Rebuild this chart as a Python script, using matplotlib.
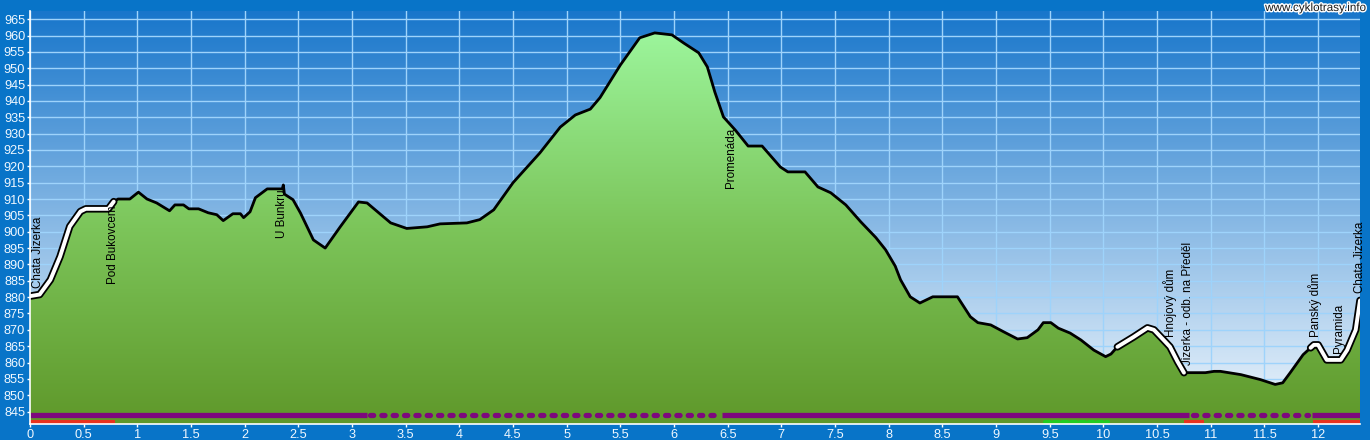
import numpy as np
import matplotlib
matplotlib.use("Agg")
import matplotlib.pyplot as plt
from matplotlib.colors import LinearSegmentedColormap
import matplotlib.patheffects as pe

# elevation profile (km, m)
km = [0.00, 0.09, 0.19, 0.28, 0.37, 0.47, 0.52, 0.73, 0.78, 0.82, 0.93, 1.01, 1.09,
      1.18, 1.30, 1.35, 1.43, 1.48, 1.57, 1.66, 1.74, 1.80, 1.89, 1.96, 1.99, 2.05,
      2.10, 2.21, 2.35, 2.36, 2.37, 2.45, 2.52, 2.64, 2.75, 2.89, 3.06, 3.14, 3.36,
      3.51, 3.70, 3.82, 4.07, 4.19, 4.32, 4.50, 4.75, 4.94, 5.08, 5.22, 5.31, 5.50,
      5.68, 5.82, 5.98, 6.09, 6.23, 6.31, 6.38, 6.46, 6.57, 6.69, 6.82, 6.99, 7.06,
      7.22, 7.34, 7.46, 7.60, 7.74, 7.88, 7.97, 8.06, 8.11, 8.20, 8.29, 8.41, 8.64,
      8.76, 8.83, 8.95, 9.07, 9.20, 9.29, 9.39, 9.44, 9.51, 9.58, 9.69, 9.79, 9.91,
      10.02, 10.07, 10.13, 10.28, 10.41, 10.47, 10.56, 10.62, 10.69, 10.75, 10.95,
      11.03, 11.09, 11.28, 11.46, 11.60, 11.67, 11.74, 11.86, 11.96, 12.00, 12.08,
      12.21, 12.27, 12.35, 12.39]
elev = [880.3, 880.8, 885.3, 892.4, 901.6, 906.2, 907.0, 907.0, 909.2, 910.0, 910.0, 912.1, 910.0,
        908.8, 906.4, 908.2, 908.2, 907.0, 907.0, 905.8, 905.2, 903.4, 905.5, 905.5, 904.3, 906.1,
        910.4, 913.1, 913.1, 914.3, 911.5, 909.8, 905.7, 897.5, 895.0, 901.5, 909.1, 908.8, 902.7,
        901.0, 901.5, 902.4, 902.7, 903.7, 906.7, 915.0, 924.1, 932.0, 935.7, 937.5, 941.0, 951.0,
        959.3, 960.8, 960.2, 957.7, 954.7, 950.4, 942.7, 935.1, 931.1, 926.2, 926.2, 919.8, 918.3,
        918.3, 913.7, 911.9, 908.2, 903.0, 898.2, 894.5, 889.5, 885.3, 880.1, 878.2, 880.1, 880.1,
        874.0, 872.2, 871.5, 869.4, 867.2, 867.6, 870.0, 872.2, 872.2, 870.5, 869.0, 866.9, 863.8,
        861.8, 862.6, 864.8, 867.8, 870.6, 870.0, 866.9, 864.8, 860.3, 856.9, 856.9,
        857.3, 857.3, 856.3, 854.8, 853.3, 853.8, 856.9, 862.4, 865.4, 865.4, 860.8,
        860.8, 863.8, 870.0, 879.0]

# road (white) segments of the profile
road_segments = [(0.0, 0.78), (10.13, 10.75), (11.93, 12.39)]

# waypoint labels: name, km, elevation of label start
wp_names = ["Chata Jizerka", "Pod Bukovcem", "U Bunkru", "Promenáda", "Hnojový dům",
            "Jizerka - odb. na Předěl", "Panský dům", "Pyramida", "Chata Jizerka"]
wp_km = [0.07, 0.77, 2.35, 6.53, 10.62, 10.79, 11.97, 12.19, 12.39]
wp_y = [882.8, 884.0, 898.1, 913.4, 867.8, 859.3, 867.8, 862.9, 881.3]

# surface bars
purple_solid = [(0.0, 3.14), (6.45, 10.80), (11.94, 12.39)]
purple_dotted = [(3.14, 6.45), (10.80, 11.94)]
red_bars = [(0.0, 0.79), (10.75, 10.94), (11.95, 12.39)]
green_bars = [(9.46, 10.04)]

xticks = np.arange(0, 12.01, 0.5)
xticklabels = ["%g" % t for t in xticks]
yticks = np.arange(845, 966, 5)

XMAX = 12.39
YMIN, YMAX = 841.2, 967.5

plt.rcParams["font.family"] = ["Liberation Sans", "DejaVu Sans"]

fig = plt.figure(figsize=(13.7, 4.4), dpi=100)
fig.patch.set_facecolor("#0874c8")
ax = fig.add_axes([30 / 1370, 16 / 440, 1330 / 1370, 413 / 440])

# background gradient
bg = LinearSegmentedColormap.from_list("bg", ["#f2f8fd", "#1876cb"])
grad = np.linspace(0, 1, 256).reshape(-1, 1)
ax.imshow(grad, cmap=bg, aspect="auto", origin="lower",
          extent=[0, XMAX, YMIN, YMAX], zorder=0)

# grid
ax.set_xticks(xticks)
ax.set_xticklabels(xticklabels)
ax.set_yticks(yticks)
ax.grid(True, color="#9ed3fb", linewidth=1.0, zorder=1)

# green fill with gradient
gr = LinearSegmentedColormap.from_list("gr", ["#5f982a", "#7cc55a", "#9cf59c"])
poly = ax.fill_between(km, elev, YMIN, color="none", zorder=2)
img = ax.imshow(grad, cmap=gr, aspect="auto", origin="lower",
                extent=[0, XMAX, YMIN, 961], zorder=2)
img.set_clip_path(poly.get_paths()[0], transform=ax.transData)

# profile line
km_a = np.array(km)
el_a = np.array(elev)
ax.plot(km, elev, color="black", lw=2.0, zorder=4, solid_capstyle="round",
        solid_joinstyle="round")
for a, b in road_segments:
    m = (km_a >= a - 1e-9) & (km_a <= b + 1e-9)
    xs = np.concatenate([[a], km_a[m], [b]])
    ys = np.interp(xs, km_a, el_a)
    ax.plot(xs, ys, color="black", lw=5.4, zorder=5, solid_capstyle="round",
            solid_joinstyle="round")
    ax.plot(xs, ys, color="white", lw=2.8, zorder=6, solid_capstyle="round",
            solid_joinstyle="round")

# waypoint labels
for name, x, y in zip(wp_names, wp_km, wp_y):
    ax.text(x, y, name, rotation=90, ha="center", va="bottom", fontsize=8.4,
            color="black", zorder=7, clip_on=False)

# surface bars
for a, b in purple_solid:
    ax.plot([a, b], [844.0, 844.0], color="#7d087d", lw=3.8, zorder=8,
            solid_capstyle="butt")
for a, b in purple_dotted:
    ax.plot([a + 0.03, b - 0.03], [844.0, 844.0], color="#7d087d", lw=3.8, zorder=8,
            dashes=(0.6, 1.55), dash_capstyle="round")
for a, b in red_bars:
    ax.plot([a, b], [841.95, 841.95], color="#e8321e", lw=3.0, zorder=8,
            solid_capstyle="butt")
for a, b in green_bars:
    ax.plot([a, b], [841.95, 841.95], color="#22cc22", lw=3.0, zorder=8,
            dashes=(1.2, 0.9), dash_capstyle="round")

ax.set_xlim(0, XMAX)
ax.set_ylim(YMIN, YMAX)

for s in ["top", "right"]:
    ax.spines[s].set_visible(False)
for s in ["left", "bottom"]:
    ax.spines[s].set_color("white")
    ax.spines[s].set_linewidth(1.2)
    ax.spines[s].set_zorder(9)
ax.tick_params(colors="white", labelcolor="#f0f8ff", labelsize=9.2,
               length=2.5, width=1, pad=1)

fig.text(1366 / 1370, 1 - 8 / 440, "www.cyklotrasy.info", ha="right", va="center",
         fontsize=8.4, color="#1a1a1a",
         path_effects=[pe.withStroke(linewidth=2, foreground="white")])

fig.savefig("out.png", dpi=100, facecolor=fig.get_facecolor())
